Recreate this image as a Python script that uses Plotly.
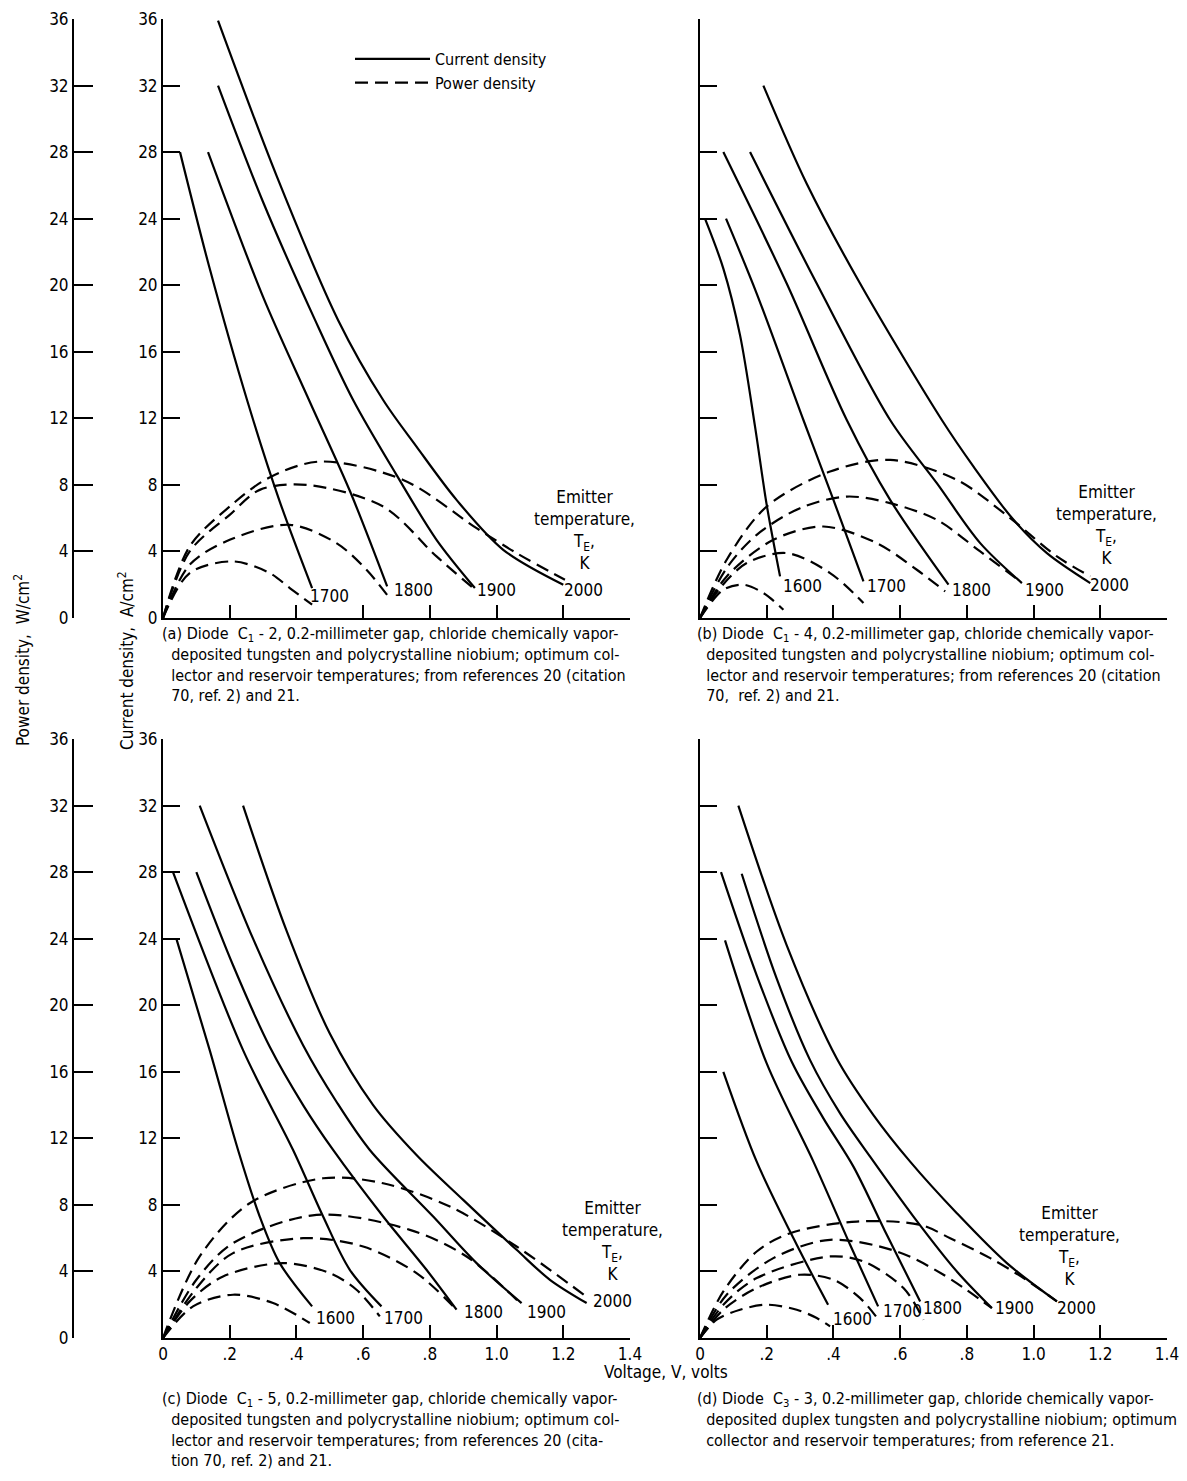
import plotly.graph_objects as go

W, H = 1187, 1481
FONT = "Liberation Sans Narrow, DejaVu Sans Condensed, Arial Narrow, sans-serif"

# ---------------- data (V in volts, J in A/cm2, P in W/cm2) ----------------
temps_a = [1700, 1800, 1900, 2000]
temps_bcd = [1600, 1700, 1800, 1900, 2000]

# Panel (a) diode C1-2
a_cur_V = {1700: [0.051, 0.14, 0.252, 0.35, 0.447],
           1800: [0.135, 0.30, 0.44, 0.561, 0.672],
           1900: [0.165, 0.30, 0.456, 0.57, 0.70, 0.82, 0.935],
           2000: [0.165, 0.34, 0.525, 0.66, 0.76, 0.88, 1.02, 1.20]}
a_cur_J = {1700: [28, 21, 13.1, 7, 1.8],
           1800: [28, 19.3, 13.0, 7.6, 1.9],
           1900: [32, 25.0, 17.9, 13.1, 8.6, 4.7, 1.8],
           2000: [35.9, 26.6, 17.9, 13.1, 10.3, 7.1, 4.1, 2.0]}
a_pow_V = {1700: [0, 0.08, 0.21, 0.32, 0.38, 0.447],
           1800: [0, 0.08, 0.2, 0.38, 0.52, 0.61, 0.675],
           1900: [0, 0.08, 0.2, 0.29, 0.43, 0.66, 0.82, 0.93],
           2000: [0, 0.08, 0.2, 0.315, 0.47, 0.72, 0.94, 1.06, 1.205]}
a_pow_P = {1700: [0, 2.7, 3.4, 2.7, 1.8, 0.8],
           1800: [0, 3.2, 4.7, 5.6, 4.5, 2.9, 1.3],
           1900: [0, 4.0, 6.2, 7.7, 8.0, 6.7, 3.7, 1.8],
           2000: [0, 4.3, 6.7, 8.4, 9.4, 8.3, 5.4, 3.9, 2.3]}

# Panel (b) diode C1-4
b_cur_V = {1600: [0.015, 0.07, 0.12, 0.165, 0.2, 0.24],
           1700: [0.078, 0.17, 0.31, 0.40, 0.49],
           1800: [0.07, 0.26, 0.44, 0.57, 0.745],
           1900: [0.15, 0.35, 0.57, 0.71, 0.84, 0.965],
           2000: [0.19, 0.32, 0.48, 0.725, 0.82, 0.94, 1.04, 1.17]}
b_cur_J = {1600: [24, 21, 17, 11.5, 6.8, 2.5],
           1700: [24, 19.5, 11.9, 7.1, 2.2],
           1800: [28, 20.1, 11.9, 7.1, 2.0],
           1900: [28, 20.1, 11.9, 8.1, 4.5, 2.1],
           2000: [32, 26.1, 20.1, 11.9, 9.1, 5.9, 3.9, 2.1]}
b_pow_V = {1600: [0, 0.07, 0.13, 0.19, 0.25],
           1700: [0, 0.06, 0.14, 0.26, 0.39, 0.49],
           1800: [0, 0.08, 0.22, 0.37, 0.53, 0.65, 0.735],
           1900: [0, 0.08, 0.17, 0.3, 0.44, 0.57, 0.71, 0.84, 0.96],
           2000: [0, 0.08, 0.2, 0.39, 0.57, 0.77, 0.93, 1.07, 1.17]}
b_pow_P = {1600: [0, 1.7, 2.0, 1.5, 0.5],
           1700: [0, 1.8, 3.3, 3.9, 2.7, 0.9],
           1800: [0, 2.5, 4.7, 5.5, 4.5, 2.9, 1.6],
           1900: [0, 3.0, 5.0, 6.6, 7.3, 6.9, 5.9, 4.0, 2.2],
           2000: [0, 3.5, 6.7, 8.8, 9.5, 8.3, 6.0, 3.7, 2.5]}

# Panel (c) diode C1-5
c_cur_V = {1600: [0.04, 0.14, 0.225, 0.29, 0.35, 0.447],
           1700: [0.03, 0.24, 0.39, 0.48, 0.56, 0.655],
           1800: [0.10, 0.21, 0.32, 0.42, 0.51, 0.66, 0.79, 0.88],
           1900: [0.11, 0.27, 0.42, 0.52, 0.62, 0.81, 0.94, 1.075],
           2000: [0.24, 0.37, 0.50, 0.63, 0.76, 0.90, 1.06, 1.16, 1.27]}
c_cur_J = {1600: [24, 17.3, 11.3, 7.3, 4.5, 1.9],
           1700: [28, 17.3, 11.3, 7.3, 4.1, 1.9],
           1800: [28, 22.4, 17.5, 14.0, 11.3, 7.3, 4.1, 1.7],
           1900: [32, 24.0, 17.6, 14.2, 11.3, 7.3, 4.5, 2.1],
           2000: [32, 24.5, 18.3, 14.0, 11.0, 8.3, 5.3, 3.5, 2.1]}
c_pow_V = {1600: [0, 0.09, 0.21, 0.33, 0.44],
           1700: [0, 0.08, 0.18, 0.36, 0.5, 0.58, 0.65],
           1800: [0, 0.1, 0.21, 0.42, 0.6, 0.76, 0.88],
           1900: [0, 0.1, 0.21, 0.46, 0.74, 0.91, 1.07],
           2000: [0, 0.11, 0.26, 0.48, 0.66, 0.86, 1.06, 1.275]}
c_pow_P = {1600: [0, 1.9, 2.6, 2.1, 0.9],
           1700: [0, 2.2, 3.7, 4.5, 3.9, 2.9, 1.3],
           1800: [0, 3.0, 5.1, 6.0, 5.5, 3.9, 1.7],
           1900: [0, 3.5, 5.7, 7.4, 6.5, 4.9, 2.1],
           2000: [0, 4.9, 8.1, 9.6, 9.3, 7.9, 5.5, 2.4]}

# Panel (d) diode C3-3
d_cur_V = {1600: [0.07, 0.17, 0.29, 0.384],
           1700: [0.075, 0.20, 0.34, 0.45, 0.534],
           1800: [0.063, 0.17, 0.275, 0.37, 0.46, 0.56, 0.66],
           1900: [0.125, 0.23, 0.33, 0.42, 0.51, 0.64, 0.77, 0.875],
           2000: [0.115, 0.26, 0.41, 0.52, 0.63, 0.77, 0.92, 1.07]}
d_cur_J = {1600: [16.0, 10.6, 5.6, 2.0],
           1700: [23.9, 16.5, 10.6, 5.6, 1.9],
           1800: [28.0, 21.8, 16.6, 13.2, 10.3, 6.2, 2.2],
           1900: [27.9, 21.6, 16.7, 13.5, 10.9, 7.3, 4.0, 1.8],
           2000: [32.0, 23.6, 16.8, 13.4, 10.6, 7.5, 4.5, 2.2]}
d_pow_V = {1600: [0, 0.05, 0.12, 0.2, 0.29, 0.35, 0.39],
           1700: [0, 0.07, 0.17, 0.30, 0.40, 0.48, 0.535],
           1800: [0, 0.07, 0.17, 0.39, 0.49, 0.61, 0.67],
           1900: [0, 0.08, 0.22, 0.39, 0.59, 0.73, 0.875],
           2000: [0, 0.07, 0.17, 0.27, 0.47, 0.66, 0.75, 0.87, 0.97, 1.07]}
d_pow_P = {1600: [0, 1.1, 1.7, 2.0, 1.7, 1.2, 0.7],
           1700: [0, 1.7, 3.0, 3.8, 3.5, 2.4, 1.1],
           1800: [0, 2.0, 3.6, 4.9, 4.6, 3.0, 1.1],
           1900: [0, 2.6, 4.8, 5.9, 5.2, 3.8, 1.8],
           2000: [0, 2.8, 5.2, 6.3, 7.0, 6.8, 6.0, 4.8, 3.6, 2.2]}

x_tickvals = [0, 0.2, 0.4, 0.6, 0.8, 1.0, 1.2, 1.4]
x_ticktext = ["0", ".2", ".4", ".6", ".8", "1.0", "1.2", "1.4"]
y_tickvals = [0, 4, 8, 12, 16, 20, 24, 28, 32, 36]
y_ticktext = [str(v) for v in y_tickvals]

# ---------------- figure ----------------
fig = go.Figure()

def px(p):
    return p / W

def py(p):
    return 1 - p / H

panels = [
    ("x", "y", "y5", temps_a, a_cur_V, a_cur_J, a_pow_V, a_pow_P),
    ("x2", "y2", "y2", temps_bcd, b_cur_V, b_cur_J, b_pow_V, b_pow_P),
    ("x3", "y3", "y6", temps_bcd, c_cur_V, c_cur_J, c_pow_V, c_pow_P),
    ("x4", "y4", "y4", temps_bcd, d_cur_V, d_cur_J, d_pow_V, d_pow_P),
]

first = True
for xa, ya, ypa, temps, cV, cJ, pV, pP in panels:
    for i, t in enumerate(temps):
        fig.add_trace(go.Scatter(
            x=cV[t], y=cJ[t], mode="lines", xaxis=xa, yaxis=ya,
            line=dict(color="black", width=2.2, shape="spline", smoothing=0.9),
            name="Current density", legendgroup="cur",
            showlegend=(first and i == 0), hoverinfo="skip"))
    for i, t in enumerate(temps):
        fig.add_trace(go.Scatter(
            x=pV[t], y=pP[t], mode="lines", xaxis=xa, yaxis=ypa,
            line=dict(color="black", width=2.2, shape="spline", smoothing=0.9,
                      dash="13px,7px"),
            name="Power density", legendgroup="pow",
            showlegend=(first and i == 0), hoverinfo="skip"))
    first = False

axis_style = dict(showline=True, linecolor="black", linewidth=2, ticks="inside",
                  tickcolor="black", tickwidth=2, showgrid=False, zeroline=False,
                  automargin=False,
                  tickfont=dict(size=17, color="black", family=FONT), fixedrange=True)

xa_dom_l = [px(163), px(630)]
xa_dom_r = [px(700), px(1167)]
ya_dom_t = [py(618), py(19)]
ya_dom_b = [py(1338), py(739)]

def xaxis(dom, anchor, labels):
    d = dict(axis_style, domain=dom, anchor=anchor, range=[0, 1.4],
             tickvals=x_tickvals, ticklen=13, showticklabels=labels)
    if labels:
        d["ticktext"] = x_ticktext
    return d

def yaxis(dom, anchor, labels, text=None):
    d = dict(axis_style, domain=dom, anchor=anchor, range=[0, 36],
             tickvals=y_tickvals, ticklen=17, showticklabels=labels)
    if labels:
        d["ticktext"] = text if text else y_ticktext
    return d

y3_text = [""] + y_ticktext[1:]

fig.update_layout(
    width=W, height=H, autosize=False,
    margin=dict(l=0, r=0, t=0, b=0, pad=0),
    paper_bgcolor="white", plot_bgcolor="white",
    font=dict(family=FONT, size=17, color="black"),
    xaxis=xaxis(xa_dom_l, "y", False),
    yaxis=yaxis(ya_dom_t, "x", True),
    xaxis2=xaxis(xa_dom_r, "y2", False),
    yaxis2=yaxis(ya_dom_t, "x2", False),
    xaxis3=xaxis(xa_dom_l, "y3", True),
    yaxis3=yaxis(ya_dom_b, "x3", True, y3_text),
    xaxis4=xaxis(xa_dom_r, "y4", True),
    yaxis4=yaxis(ya_dom_b, "x4", False),
    yaxis5=dict(axis_style, overlaying="y", anchor="free", position=px(73), side="left",
                range=[0, 36], tickvals=y_tickvals, ticktext=y_ticktext, ticklen=19),
    yaxis6=dict(axis_style, overlaying="y3", anchor="free", position=px(73), side="left",
                range=[0, 36], tickvals=y_tickvals, ticktext=y_ticktext, ticklen=19),
    showlegend=True,
    legend=dict(x=px(350), y=py(42), xanchor="left", yanchor="top",
                bgcolor="rgba(0,0,0,0)", font=dict(size=16, family=FONT),
                itemwidth=75, tracegroupgap=0),
)

ann = []
# temperature labels (panel, temp, V, J)
label_pos = [
    ("x", "y", [(1700, 0.50, 1.3), (1800, 0.75, 1.7), (1900, 1.0, 1.7), (2000, 1.26, 1.7)], (1.265, 5.3)),
    ("x2", "y2", [(1600, 0.306, 1.9), (1700, 0.56, 1.9), (1800, 0.815, 1.7), (1900, 1.034, 1.7), (2000, 1.229, 2.0)], (1.22, 5.6)),
    ("x3", "y3", [(1600, 0.516, 1.2), (1700, 0.72, 1.2), (1800, 0.96, 1.56), (1900, 1.151, 1.56), (2000, 1.349, 2.2)], (1.349, 5.8)),
    ("x4", "y4", [(1600, 0.456, 1.14), (1700, 0.606, 1.6), (1800, 0.728, 1.8), (1900, 0.944, 1.8), (2000, 1.13, 1.8)], (1.109, 5.5)),
]
for xr, yr, labs, (ex, ey) in label_pos:
    for t, lx, ly in labs:
        ann.append(dict(xref=xr, yref=yr, x=lx, y=ly, text=str(t), showarrow=False,
                        font=dict(size=17)))
    ann.append(dict(xref=xr, yref=yr, x=ex, y=ey, showarrow=False, align="center",
                    text="Emitter<br>temperature,<br>T<sub>E</sub>,<br>K", font=dict(size=17)))

# axis titles
ann.append(dict(xref="paper", yref="paper", x=px(22), y=py(660), textangle=-90,
                xanchor="center", yanchor="middle",
                text="Power density,  W/cm<sup>2</sup>", showarrow=False, font=dict(size=17)))
ann.append(dict(xref="paper", yref="paper", x=px(126), y=py(660), textangle=-90,
                xanchor="center", yanchor="middle",
                text="Current density,  A/cm<sup>2</sup>", showarrow=False, font=dict(size=17)))
ann.append(dict(xref="paper", yref="paper", x=px(666), y=py(1372),
                xanchor="center", yanchor="middle",
                text="Voltage, V, volts", showarrow=False, font=dict(size=17)))

# captions
IND = "&nbsp;&nbsp;"
captions = [
    (160, 622, ["(a) Diode  C<sub>1</sub> - 2, 0.2-millimeter gap, chloride chemically vapor-",
                IND + "deposited tungsten and polycrystalline niobium; optimum col-",
                IND + "lector and reservoir temperatures; from references 20 (citation",
                IND + "70, ref. 2) and 21."]),
    (695, 622, ["(b) Diode  C<sub>1</sub> - 4, 0.2-millimeter gap, chloride chemically vapor-",
                IND + "deposited tungsten and polycrystalline niobium; optimum col-",
                IND + "lector and reservoir temperatures; from references 20 (citation",
                IND + "70,  ref. 2) and 21."]),
    (160, 1387, ["(c) Diode  C<sub>1</sub> - 5, 0.2-millimeter gap, chloride chemically vapor-",
                 IND + "deposited tungsten and polycrystalline niobium; optimum col-",
                 IND + "lector and reservoir temperatures; from references 20 (cita-",
                 IND + "tion 70, ref. 2) and 21."]),
    (695, 1387, ["(d) Diode  C<sub>3</sub> - 3, 0.2-millimeter gap, chloride chemically vapor-",
                 IND + "deposited duplex tungsten and polycrystalline niobium; optimum",
                 IND + "collector and reservoir temperatures; from reference 21."]),
]
for cx, cy, lines in captions:
    ann.append(dict(xref="paper", yref="paper", x=px(cx), y=py(cy), xanchor="left",
                    yanchor="top", align="left", showarrow=False,
                    text="<br>".join(lines), font=dict(size=16)))

fig.update_layout(annotations=ann)
fig.write_html("out.html", config={"displayModeBar": False, "staticPlot": True},
               post_script="document.body.style.margin='0';document.body.style.padding='0';"
                           "document.documentElement.style.overflow='hidden';")
